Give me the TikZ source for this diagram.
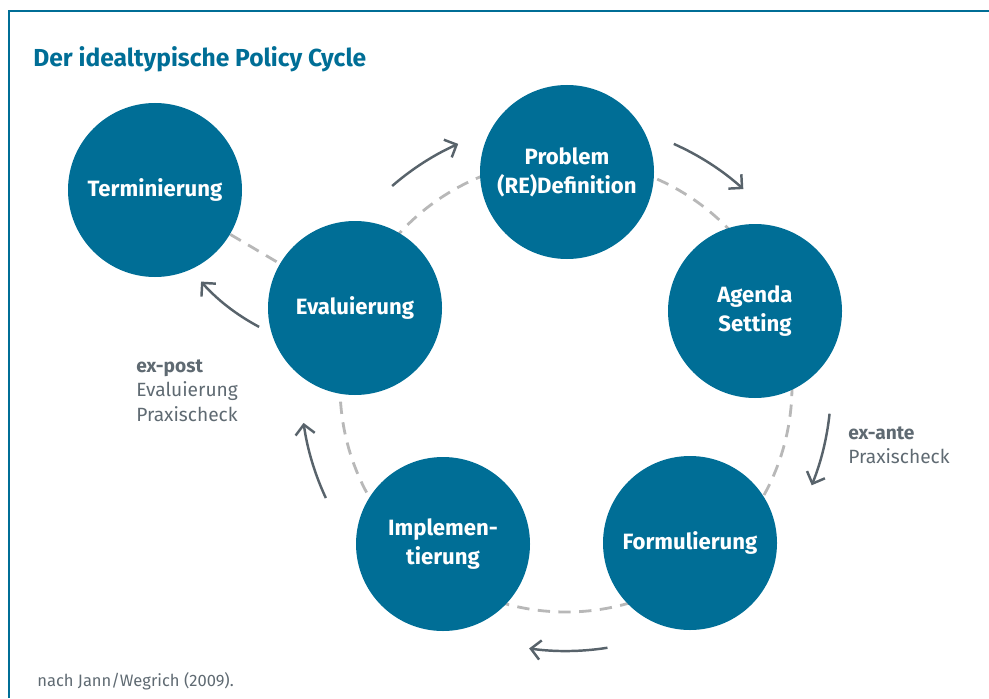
\documentclass[tikz,border=0pt]{standalone}
\usepackage{fontspec}
\setmainfont{Fira Sans}
\usetikzlibrary{arrows.meta, backgrounds}

\definecolor{bundblau}{RGB}{0,110,150}
\definecolor{pfeilgrau}{RGB}{88,99,107}
\definecolor{textgrau}{RGB}{95,106,114}
\definecolor{ringgrau}{RGB}{184,184,184}

\tikzset{
  phase/.style={circle, fill=bundblau, minimum size=3.48cm, inner sep=0pt,
    text=white, align=center, font=\bfseries\fontsize{12.6}{16.4}\selectfont},
  ring/.style={ringgrau, line width=1.6pt, dash pattern=on 7pt off 4.8pt},
  lauf/.style={pfeilgrau, line width=1.4pt,
    -{Straight Barb[length=5.5pt, width=11pt, line width=1.4pt]}},
  notiz/.style={textgrau, align=left, anchor=north west, inner sep=0pt,
    font=\fontsize{10.9}{14}\selectfont}
}

\begin{document}
\begin{tikzpicture}
  \useasboundingbox (0,0) rectangle (19.78,13.96);
  % frame (open to the right and bottom)
  \draw[bundblau, line width=1.7pt] (0.18,0) -- (0.18,13.74) -- (19.78,13.74);
  \node[anchor=base west, inner sep=0pt, text=bundblau,
    font=\bfseries\fontsize{14}{16}\selectfont] (titel) at (0.66,12.62)
    {Der idealtypische Policy Cycle};

  % stages
  \coordinate (mitte) at (11.32,6.24);
  \node[phase] (term) at (3.10,10.16) {Terminierung};
  \node[phase] (prob) at (11.34,10.52) {Problem\\(RE)Definition};
  \node[phase] (eval) at (7.10,7.80) {Evaluierung};
  \node[phase] (agenda) at (15.10,7.74) {Agenda\\Setting};
  \node[phase] (impl) at (8.86,3.08) {Implemen-\\tierung};
  \node[phase] (form) at (13.80,3.10) {Formulierung};

  % dashed ring behind the stages
  \begin{scope}[on background layer]
    \draw[ring] (mitte) circle[radius=4.52];
    \draw[ring] (term) -- (eval);
  \end{scope}

  % arrows running round the cycle
  \foreach \a/\b in {131/114, 66/48, -6/-22, -81/-98, 205/188}
    \draw[lauf] ([shift={(mitte)}]\a:5.3) arc[start angle=\a, end angle=\b, radius=5.3];
  \draw[lauf, shorten <=8pt, shorten >=9pt] (eval.197) to[bend left=10] (term.294);

  % checks
  \node[notiz] (expost) at (2.72,6.78) {\textbf{ex-post}\\Evaluierung\\Praxischeck};
  \node[notiz] (exante) at (16.96,5.44) {\textbf{ex-ante}\\Praxischeck};

  \node[anchor=base west, inner sep=0pt, text=textgrau,
    font=\fontsize{9.4}{11}\selectfont] (quelle) at (0.74,0.24) {nach Jann/Wegrich (2009).};
\end{tikzpicture}
\end{document}
